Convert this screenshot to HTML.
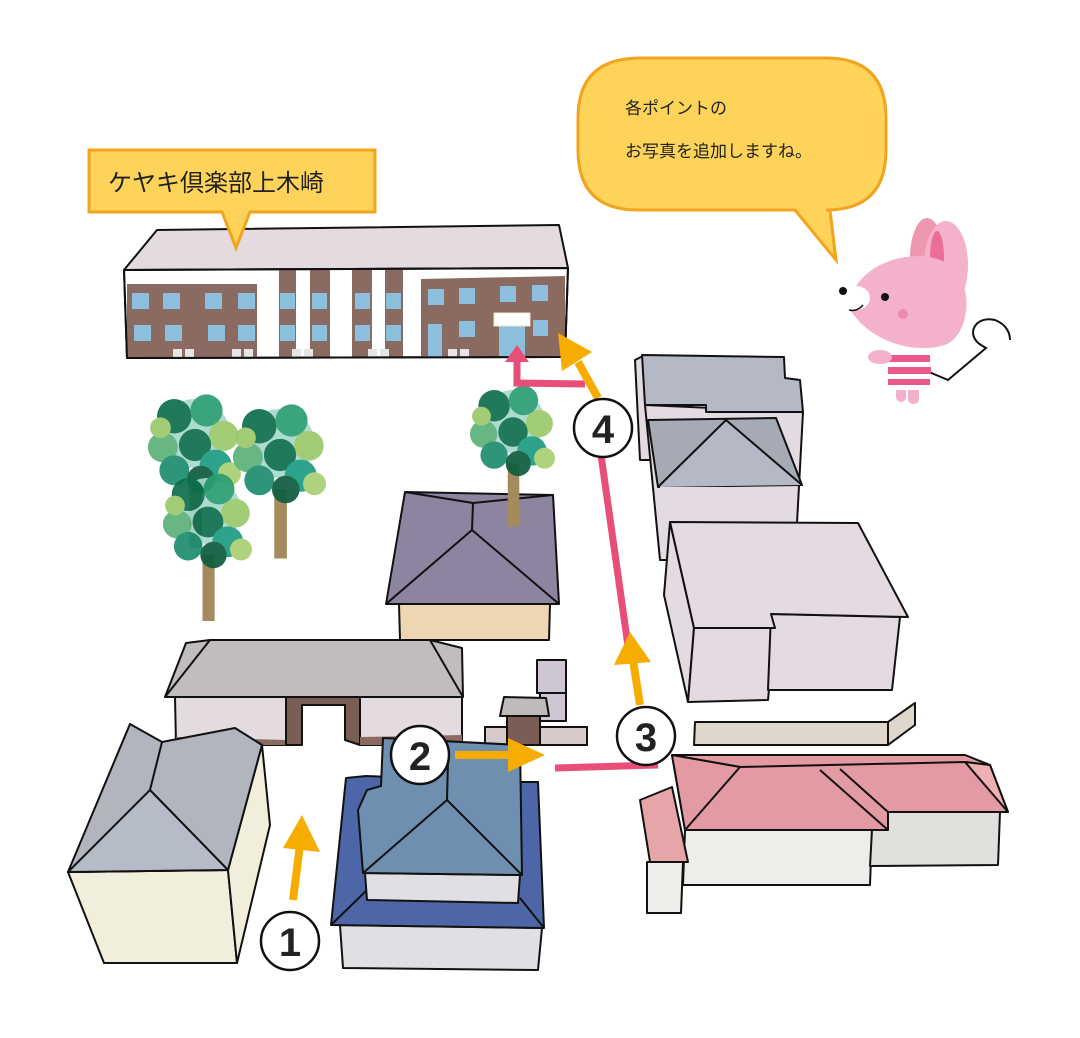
<!DOCTYPE html>
<html><head><meta charset="utf-8"><style>
html,body{margin:0;padding:0;background:#fff;width:1080px;height:1038px;overflow:hidden}
svg{display:block}
text{font-family:"Liberation Sans","Noto Sans CJK JP",sans-serif}
</style></head><body>
<svg width="1080" height="1038" viewBox="0 0 1080 1038" xmlns="http://www.w3.org/2000/svg">
<defs>
<g id="tree">
<rect x="-5" y="30" width="11" height="60" fill="#a58a5e"/>
<g opacity="0.92">
<circle cx="0" cy="-10" r="30" fill="#a8d8cb"/>
<circle cx="-18" cy="-25" r="15" fill="#0d6e4d"/>
<circle cx="10" cy="-30" r="14" fill="#2a9e72"/>
<circle cx="25" cy="-8" r="13" fill="#9bc86a"/>
<circle cx="-28" cy="2" r="13" fill="#5bb07a"/>
<circle cx="0" cy="0" r="14" fill="#0d6e4d"/>
<circle cx="18" cy="18" r="14" fill="#1d9c83"/>
<circle cx="-18" cy="22" r="13" fill="#1d8c6f"/>
<circle cx="5" cy="30" r="12" fill="#0e5c3e"/>
<circle cx="30" cy="25" r="10" fill="#a8cf72"/>
<circle cx="-30" cy="-15" r="9" fill="#9bc86a"/>
</g>
</g>
</defs>
<!-- speech bubble -->
<path d="M640 58 H826 Q886 58 886 118 V150 Q886 210 826 210 H830 L836 260 L795 210 H638 Q578 210 578 150 V118 Q578 58 640 58Z" fill="#fdd35a" stroke="#f2a41e" stroke-width="3"/>
<g stroke="#111" stroke-width="2" stroke-linejoin="round">
<!-- main building -->
<polygon points="124,270 157,230 559,225 568,268" fill="#e3dbe0"/>
<polygon points="124,270 568,268 565,357 127,358" fill="#fff"/>
<g stroke="none" fill="#8b6a62">
<rect x="127" y="284" width="130" height="73"/>
<rect x="279" y="270" width="17" height="87"/>
<rect x="310" y="270" width="20" height="87"/>
<rect x="352" y="270" width="20" height="87"/>
<rect x="385" y="270" width="18" height="87"/>
<polygon points="421,279 565,276 565,356 421,356"/>
</g>
<g stroke="none" fill="#8bbfdb">
<rect x="132" y="293" width="17" height="16"/><rect x="163" y="293" width="17" height="16"/><rect x="205" y="293" width="17" height="16"/><rect x="238" y="293" width="17" height="16"/>
<rect x="134" y="325" width="17" height="16"/><rect x="165" y="325" width="17" height="16"/><rect x="208" y="325" width="17" height="16"/><rect x="238" y="325" width="17" height="16"/>
<rect x="280" y="293" width="15" height="16"/><rect x="312" y="293" width="15" height="16"/><rect x="355" y="293" width="15" height="16"/><rect x="386" y="293" width="15" height="16"/>
<rect x="280" y="325" width="15" height="16"/><rect x="312" y="325" width="15" height="16"/><rect x="355" y="325" width="15" height="16"/><rect x="386" y="325" width="15" height="16"/>
<rect x="428" y="289" width="16" height="16"/><rect x="459" y="288" width="16" height="16"/><rect x="500" y="286" width="16" height="16"/><rect x="532" y="285" width="16" height="16"/>
<rect x="428" y="324" width="14" height="33"/><rect x="459" y="321" width="16" height="16"/><rect x="499" y="323" width="26" height="34"/><rect x="533" y="320" width="15" height="16"/>
</g>
<rect x="494" y="313" width="36" height="13" fill="#fff" stroke="#eee4d0" stroke-width="1"/>
<g stroke="none" fill="#e6e4e4">
<rect x="173" y="349" width="9" height="8"/><rect x="185" y="349" width="9" height="8"/>
<rect x="232" y="349" width="9" height="8"/><rect x="244" y="349" width="9" height="8"/>
<rect x="292" y="349" width="9" height="8"/><rect x="304" y="349" width="9" height="8"/>
<rect x="368" y="349" width="9" height="8"/><rect x="380" y="349" width="9" height="8"/>
<rect x="448" y="349" width="9" height="8"/><rect x="460" y="349" width="9" height="8"/>
</g>
<polygon points="124,270 568,268 565,357 127,358" fill="none"/>

<!-- purple house -->
<polygon points="399,604 550,604 549,640 400,640" fill="#eed6b3"/>
<polygon points="405,492 553,495 559,604 386,604" fill="#8d849f"/>
<polyline points="405,492 473,503 553,495" fill="none"/>
<line x1="473" y1="503" x2="472" y2="530"/>
<polyline points="386,604 472,530 559,604" fill="none"/>

<!-- right top gray buildings -->
<polygon points="635,360 645,355 660,460 640,460" fill="#e3dbe1"/>
<polygon points="645,405 803,412 795,560 660,560" fill="#e3dbe1"/>
<polygon points="642,355 784,357 785,378 800,380 803,412 706,412 706,405 645,405" fill="#b4b9c5"/>
<polygon points="648,420 776,418 802,485 658,487" fill="#a5aab5"/>
<polyline points="658,487 726,420 802,485" fill="#b4b9c5"/>
<polygon points="660,487 795,487 793,530 660,530" fill="#e3dbe1" stroke="none"/>
<!-- large lilac box -->
<polygon points="670,522 664,595 688,702 694,628" fill="#e3dbe1"/>
<polygon points="694,628 775,628 768,700 688,702" fill="#e3dbe1"/>
<polygon points="771,614 900,617 892,690 768,690" fill="#e3dbe1"/>
<polygon points="670,522 858,523 908,617 771,614 775,628 694,628" fill="#e3dbe1"/>
<!-- slab -->
<polygon points="695,722 888,722 888,745 694,745" fill="#e0d7cc"/>
<polygon points="888,722 915,703 915,725 888,745" fill="#e0d7cc"/>

<!-- gray long building -->
<polygon points="175,697 286,697 286,745 176,745" fill="#e4dbe0"/>
<polygon points="176,737 286,740 286,745 176,745" fill="#8b6a62" stroke="none"/>
<polygon points="286,697 360,697 360,745 345,740 345,705 302,705 302,745 286,745" fill="#7a5d55"/>
<polygon points="360,697 462,697 462,745 360,745" fill="#e4dbe0"/>
<polygon points="360,737 462,735 462,745 360,745" fill="#8b6a62" stroke="none"/>
<polygon points="165,697 186,643 210,640 430,640 462,648 463,697" fill="#c1bcbd"/>
<line x1="165" y1="697" x2="210" y2="640"/><line x1="430" y1="640" x2="463" y2="697"/>

<!-- sheds -->
<rect x="537" y="660" width="29" height="33" fill="#cfc6d3"/>
<rect x="540" y="693" width="26" height="28" fill="#cfc6d3"/>
<polygon points="485,727 587,727 587,745 485,745" fill="#d6cbca"/>
<rect x="507" y="713" width="33" height="32" fill="#7a5d55"/>
<polygon points="504,697 546,698 549,716 500,716" fill="#bfbbbb"/>

<!-- left house -->
<polygon points="68,872 228,870 237,963 104,963" fill="#f1eedb"/>
<polygon points="228,870 262,745 270,825 237,963" fill="#f1eedb"/>
<polygon points="68,872 130,724 162,742 235,728 262,745 228,870" fill="#b2b4be"/>
<polygon points="68,872 150,790 228,870" fill="#b6bbc8"/>
<polyline points="162,742 150,790" fill="none"/>

<!-- blue house -->
<polygon points="340,925 542,928 538,970 343,968" fill="#e0dfe4"/>
<polygon points="346,778 366,776 520,782 538,782 544,928 331,925" fill="#4c66a8"/>
<line x1="331" y1="925" x2="367" y2="890"/><line x1="544" y1="928" x2="520" y2="898"/>
<polygon points="365,873 520,875 518,903 367,900" fill="#e0dfe4"/>
<polygon points="383,738 520,745 522,875 363,873 358,810 367,790 381,786" fill="#6f8fb0"/>
<polyline points="363,873 447,800 522,875" fill="none"/>
<line x1="447" y1="800" x2="448" y2="760"/>

<!-- pink house -->
<polygon points="647,862 683,862 681,913 647,913" fill="#eeedea"/>
<polygon points="685,830 872,830 870,885 683,885" fill="#eeedea"/>
<polygon points="888,812 1000,812 998,865 870,866 872,830 888,830" fill="#e2e0dd"/>
<polygon points="640,800 672,787 688,862 650,862" fill="#e6a5a9"/>
<polygon points="672,755 965,755 990,765 1008,812 888,812 888,830 685,830" fill="#e39aa2"/>
<polyline points="672,755 740,767 965,762 990,765" fill="none"/>
<polygon points="672,755 740,767 685,830" fill="#e39aa2"/>
<line x1="820" y1="770" x2="888" y2="830"/><line x1="840" y1="769" x2="888" y2="812"/>
<polygon points="965,762 990,765 1008,812" fill="#eeb0b3"/>
</g>

<!-- label (over roof) -->
<path d="M89 150 H375 V212 H250 L236 248 L222 212 H89Z" fill="#fdd35a" stroke="#f2a41e" stroke-width="3"/>

<!-- trees -->
<use href="#tree" transform="translate(195,445) scale(1.15)"/>
<use href="#tree" transform="translate(208,522) scale(1.1)"/>
<use href="#tree" transform="translate(280,455) scale(1.15)"/>
<use href="#tree" transform="translate(513,432) scale(1.05)"/>

<!-- routes -->
<g stroke="#e84f78" stroke-width="7" fill="none">
<line x1="555" y1="768" x2="658" y2="765"/>
<line x1="601" y1="455" x2="630" y2="660"/>
<polyline points="585,384 517,383 517,360"/>
</g>
<polygon points="505,362 517,345 529,362" fill="#e84f78"/>
<g fill="#f7ac00">
<line x1="293" y1="900" x2="300" y2="845" stroke="#f7ac00" stroke-width="8"/>
<polygon points="283,848 302,815 320,852"/>
<line x1="455" y1="755" x2="512" y2="755" stroke="#f7ac00" stroke-width="8"/>
<polygon points="508,738 545,755 508,772"/>
<line x1="640" y1="705" x2="633" y2="660" stroke="#f7ac00" stroke-width="8"/>
<polygon points="614,665 630,632 651,662"/>
<line x1="598" y1="398" x2="578" y2="362" stroke="#f7ac00" stroke-width="8"/>
<polygon points="558,333 592,352 562,371"/>
</g>
<g fill="#fff" stroke="#111" stroke-width="2.5">
<circle cx="290" cy="941" r="29"/><circle cx="420" cy="755" r="29"/><circle cx="646" cy="736" r="29"/><circle cx="603" cy="428" r="29"/>
</g>
<g font-size="40" font-weight="bold" fill="#222" text-anchor="middle">
<text x="290" y="956">1</text><text x="420" y="770">2</text><text x="646" y="751">3</text><text x="603" y="443">4</text>
</g>

<!-- mouse -->
<path d="M929 372 L948 380 L986 348 L981 345 C965 335 975 315 995 320 C1008 325 1010 335 1010 340" fill="none" stroke="#111" stroke-width="2"/>
<ellipse cx="927" cy="258" rx="17" ry="40" fill="#ee97b1"/>
<ellipse cx="946" cy="265" rx="22" ry="44" fill="#f4b1cb"/>
<ellipse cx="937" cy="258" rx="7" ry="27" fill="#ea6e97"/>
<rect x="896" y="380" width="10" height="22" rx="5" fill="#f4b1cb"/>
<rect x="908" y="380" width="11" height="24" rx="5" fill="#f4b1cb"/>
<rect x="887" y="354" width="44" height="36" rx="10" fill="#fff"/>
<g fill="#ea5a88"><rect x="888" y="355" width="42" height="7"/><rect x="888" y="367" width="43" height="7"/><rect x="888" y="379" width="42" height="6"/></g>
<ellipse cx="880" cy="357" rx="12" ry="7" fill="#f4b1cb"/>
<path d="M850 300 C860 260 920 245 950 265 C975 285 970 335 945 345 C910 355 870 340 850 310Z" fill="#f4b1cb"/>
<ellipse cx="856" cy="298" rx="14" ry="12" fill="#fff"/>
<circle cx="843" cy="291" r="4" fill="#111"/>
<path d="M849 310 Q857 312 863 305" fill="none" stroke="#111" stroke-width="1.5"/>
<circle cx="885" cy="297" r="4" fill="#111"/>
<circle cx="903" cy="314" r="5" fill="#ec8bab"/>

<!-- texts -->
<text x="108" y="191" font-size="24" fill="#222">ケヤキ倶楽部上木崎</text>
<text x="625" y="114" font-size="17" fill="#222">各ポイントの</text>
<text x="625" y="157" font-size="17" fill="#222">お写真を追加しますね。</text>
</svg>
</body></html>
